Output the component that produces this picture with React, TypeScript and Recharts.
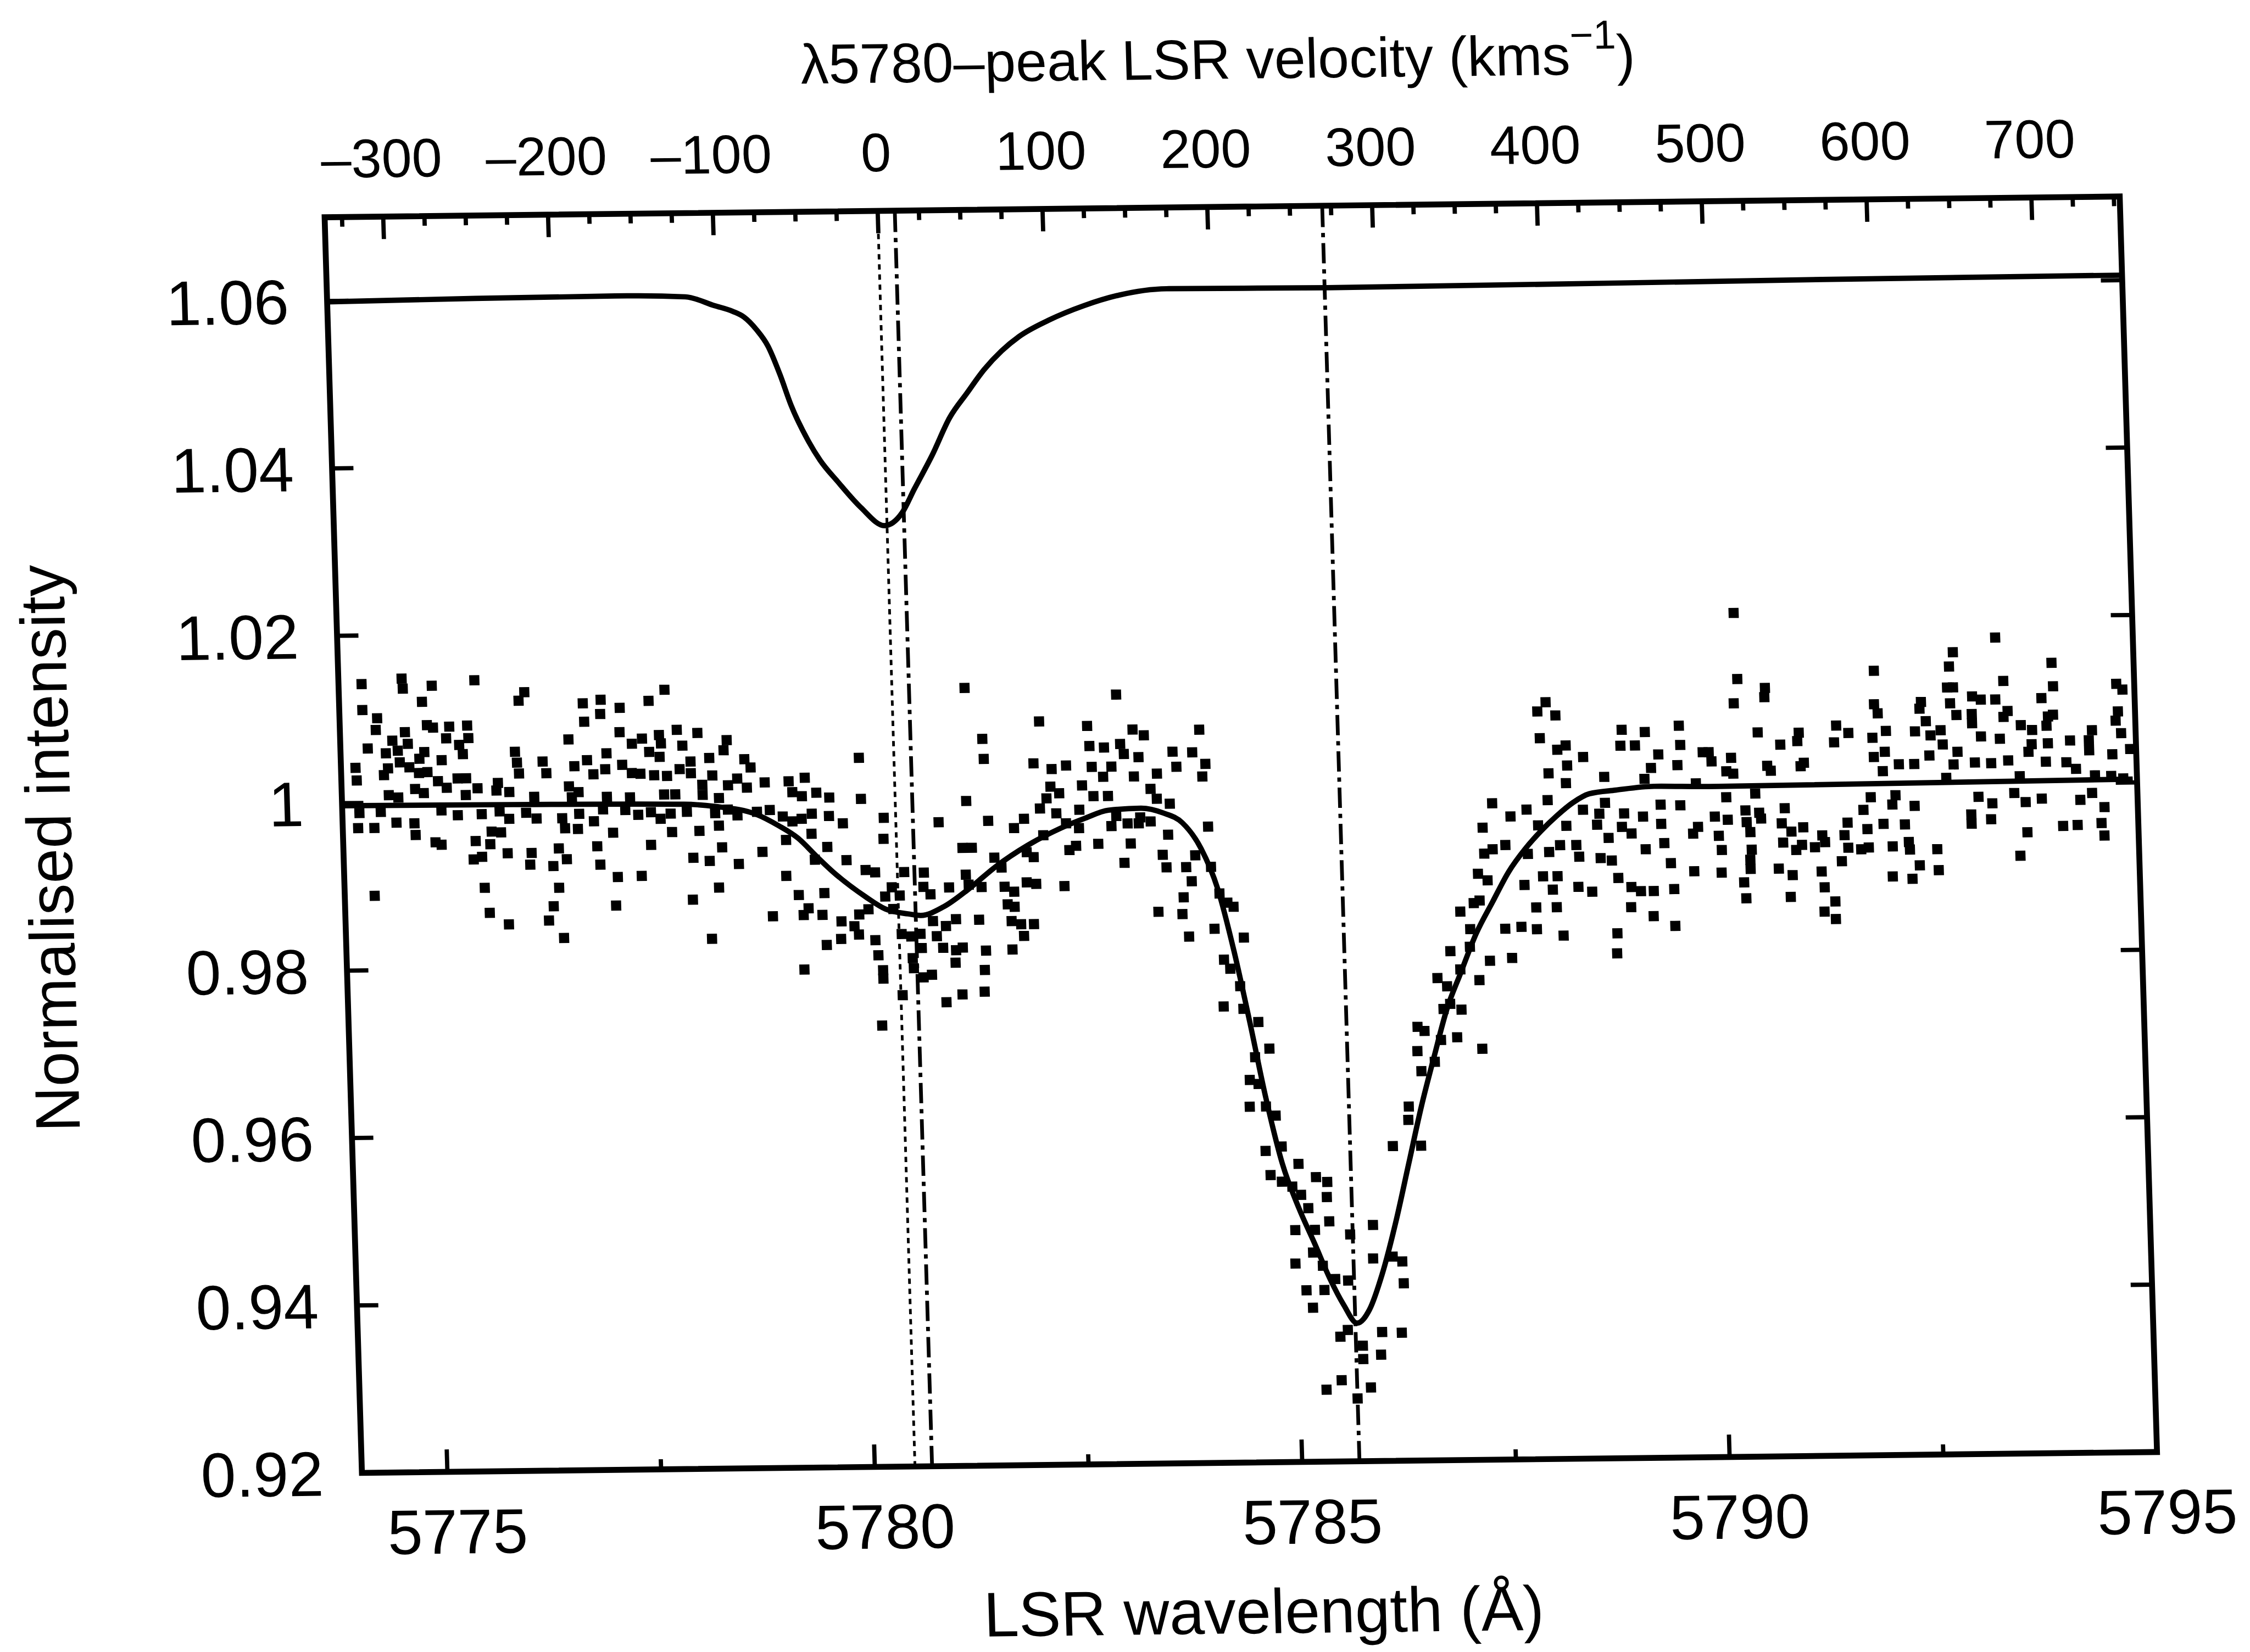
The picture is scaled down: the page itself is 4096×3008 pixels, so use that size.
import React from "react";
import {
  ComposedChart,
  Scatter,
  Line,
  XAxis,
  YAxis,
  ReferenceLine,
  ReferenceArea,
  Label,
} from "recharts";

// the printed figure sits a little rotated/sheared on the scanned page
const SCALE = 0.972;
const SHEAR_X = 0.0297;
const SHEAR_Y = -0.0116;
const SHIFT_X = -3.9;
const SHIFT_Y = 14;

const CHART_W = 4213;
const CHART_H = 3140;
const PLOT_LEFT = 600;
const PLOT_TOP = 400;
const PLOT_W = 3362;
const PLOT_H = 2352;

const FONT = '"Liberation Sans", Arial, Helvetica, sans-serif';

const LAMBDA_REST = 5780.47;
const C_KMS = 299792.458;
const toVelocity = (lam: number) => ((lam - LAMBDA_REST) / LAMBDA_REST) * C_KMS;

const lamDomain = [5774, 5795];
const intensityDomain = [0.92, 1.07];
const lamTicks = [5775, 5777.5, 5780, 5782.5, 5785, 5787.5, 5790, 5792.5, 5795];
const lamLabels = [5775, 5780, 5785, 5790, 5795];
const velTicks = [
  -325, -300, -275, -250, -225, -200, -175, -150, -125, -100, -75, -50, -25, 0, 25, 50, 75, 100,
  125, 150, 175, 200, 225, 250, 275, 300, 325, 350, 375, 400, 425, 450, 475, 500, 525, 550, 575,
  600, 625, 650, 675, 700, 725, 750,
];
const velLabels = [-300, -200, -100, 0, 100, 200, 300, 400, 500, 600, 700];
const intensityTicks = [0.92, 0.94, 0.96, 0.98, 1, 1.02, 1.04, 1.06];

// dotted line: velocity zero (peak of the lambda5780 template)
const velocityZero = [
  { vel: 0, v: 0.92 },
  { vel: 0, v: 1.07 },
];
// marked features (dash-dot)
const featureLines = [5780.67, 5785.67];

// lambda5780 template profile, shifted up for display
const templateProfile = [
  [5774.0, 1.0599], [5775.73, 1.0601], [5777.51, 1.0602], [5778.19, 1.06], [5778.53, 1.0589],
  [5778.74, 1.0582], [5778.87, 1.0575], [5779.01, 1.056], [5779.14, 1.054], [5779.27, 1.0506],
  [5779.39, 1.0469], [5779.58, 1.0426], [5779.71, 1.0403], [5779.91, 1.0377], [5780.17, 1.0346],
  [5780.44, 1.0324], [5780.65, 1.0339], [5780.8, 1.0367], [5781.02, 1.0407], [5781.24, 1.0452],
  [5781.45, 1.0481], [5781.66, 1.0509], [5781.87, 1.0531], [5782.08, 1.0548], [5782.43, 1.0567],
  [5782.85, 1.0584], [5783.26, 1.0596], [5783.82, 1.0603], [5785.7, 1.0602], [5791.49, 1.0605],
  [5795.0, 1.0606],
];

// model fit through the observed spectrum
const fitProfile = [
  [5774.0, 0.9997], [5776.0, 0.9996], [5778.0, 0.9994], [5778.36, 0.9991], [5778.84, 0.9981],
  [5779.1, 0.9967], [5779.32, 0.9952], [5779.54, 0.9929], [5779.72, 0.9911], [5780.09, 0.9881],
  [5780.32, 0.9866], [5780.58, 0.986], [5780.73, 0.9858], [5781.0, 0.9868], [5781.3, 0.9889],
  [5781.62, 0.9915], [5782.0, 0.994], [5782.39, 0.996], [5782.69, 0.9972], [5782.96, 0.9981],
  [5783.34, 0.9983], [5783.6, 0.9977], [5783.82, 0.9965], [5784.03, 0.9934], [5784.21, 0.9886],
  [5784.38, 0.9811], [5784.54, 0.9726], [5784.7, 0.9636], [5784.87, 0.9557], [5785.05, 0.9503],
  [5785.22, 0.9461], [5785.39, 0.9418], [5785.54, 0.9387], [5785.69, 0.9365], [5785.84, 0.9381],
  [5786.0, 0.9423], [5786.18, 0.9486], [5786.35, 0.9555], [5786.52, 0.9624], [5786.68, 0.9681],
  [5786.85, 0.9739], [5787.02, 0.9781], [5787.22, 0.9829], [5787.42, 0.9866], [5787.62, 0.9902],
  [5787.82, 0.9929], [5788.01, 0.995], [5788.2, 0.9968], [5788.4, 0.9984], [5788.59, 0.9994],
  [5788.9, 0.9998], [5789.35, 1.0002], [5789.99, 1.0001], [5794.95, 1.0004],
];

const observedBlue = [
  [5774.27, 1.0142], [5774.74, 1.0148], [5774.75, 1.0136], [5775.09, 1.0139], [5774.97, 1.012],
  [5775.59, 1.0145], [5776.1, 1.012], [5776.17, 1.013], [5776.85, 1.0116], [5777.06, 1.012],
  [5777.81, 1.0131], [5777.62, 1.0118], [5777.28, 1.011], [5777.05, 1.0103], [5776.86, 1.0094],
  [5774.27, 1.0111], [5774.44, 1.0101], [5774.42, 1.0087], [5774.76, 1.0084], [5775.02, 1.0092],
  [5775.09, 1.0089], [5775.28, 1.009], [5775.49, 1.0091], [5775.5, 1.0076], [5775.24, 1.0076],
  [5774.61, 1.0074], [5774.79, 1.007], [5774.67, 1.0062], [5774.32, 1.0065], [5774.53, 1.0059],
  [5774.98, 1.006], [5774.92, 1.0052], [5776.67, 1.0073], [5777.27, 1.0081], [5777.53, 1.0073],
  [5777.41, 1.0067], [5777.73, 1.0077], [5777.94, 1.0083], [5778.18, 1.0079], [5777.75, 1.0067],
  [5778.0, 1.0064], [5778.52, 1.007], [5778.48, 1.0058], [5777.61, 1.0057], [5777.11, 1.0056],
  [5777.73, 1.0051], [5778.31, 1.0049], [5778.72, 1.0047], [5778.79, 1.0037], [5776.04, 1.0059],
  [5776.06, 1.0046], [5776.08, 1.0033], [5776.36, 1.0047], [5776.4, 1.0033], [5776.73, 1.0041],
  [5776.88, 1.0048], [5777.09, 1.0037], [5776.95, 1.0031], [5777.29, 1.0042], [5777.4, 1.0032],
  [5777.5, 1.0031], [5777.66, 1.0029], [5777.81, 1.0028], [5777.96, 1.0036], [5778.09, 1.0045],
  [5778.09, 1.0031], [5778.34, 1.0028], [5778.22, 1.0017], [5778.52, 1.0016], [5778.63, 1.0024],
  [5778.74, 1.0013], [5778.95, 1.0019], [5779.23, 1.002], [5779.42, 1.0024], [5779.27, 1.0007],
  [5779.38, 1.0002], [5779.55, 1.0006], [5779.7, 1.0], [5774.17, 1.0042], [5774.18, 1.0027],
  [5774.55, 1.0041], [5774.5, 1.0033], [5774.69, 1.0048], [5774.8, 1.0042], [5774.91, 1.0035],
  [5775.01, 1.0036], [5775.13, 1.0025], [5775.23, 1.0017], [5775.18, 1.005], [5775.36, 1.0028],
  [5775.46, 1.0028], [5775.59, 1.0016], [5775.43, 1.0057], [5775.39, 1.0068], [5775.83, 1.0022],
  [5775.81, 1.0013], [5775.96, 1.0011], [5774.55, 1.0009], [5774.66, 1.0006], [5774.86, 1.0016],
  [5774.96, 1.0011], [5775.45, 1.0008], [5776.25, 1.0005], [5776.66, 1.0017], [5776.77, 1.001],
  [5776.69, 1.0004], [5777.1, 1.0004], [5777.37, 1.0003], [5777.77, 1.0006], [5777.9, 1.0006],
  [5778.22, 1.0005], [5778.41, 1.0001], [5774.2, 0.9988], [5774.45, 0.9989], [5775.16, 0.999],
  [5775.35, 0.9984], [5775.63, 0.9985], [5775.84, 0.9988], [5775.95, 0.9979], [5776.15, 0.9986],
  [5776.27, 0.9979], [5776.57, 0.9979], [5776.77, 0.9984], [5776.94, 0.9975], [5777.05, 0.9989],
  [5777.31, 0.9988], [5777.46, 0.9982], [5777.61, 0.9985], [5777.72, 0.9977], [5777.84, 0.9983],
  [5778.03, 0.9985], [5778.36, 0.9983], [5778.51, 0.9987], [5778.62, 0.998], [5778.85, 0.9984],
  [5779.0, 0.9986], [5779.15, 0.9978], [5779.26, 0.9972], [5779.37, 0.9975], [5779.49, 0.9981],
  [5779.69, 0.9978], [5774.18, 0.997], [5774.37, 0.997], [5774.63, 0.9976], [5774.84, 0.9975],
  [5774.85, 0.9961], [5775.08, 0.9952], [5775.15, 0.9949], [5775.55, 0.9953], [5775.74, 0.9964],
  [5775.85, 0.9963], [5775.72, 0.9949], [5775.52, 0.9931], [5775.62, 0.9934], [5775.92, 0.9938],
  [5776.2, 0.9938], [5776.18, 0.9924], [5776.45, 0.9922], [5776.52, 0.9943], [5776.61, 0.993],
  [5776.6, 0.9967], [5776.75, 0.9966], [5776.97, 0.9945], [5777.0, 0.9923], [5777.16, 0.9961],
  [5777.2, 0.9908], [5777.48, 0.9909], [5777.6, 0.9946], [5777.85, 0.9961], [5778.17, 0.9962],
  [5778.4, 0.9968], [5778.43, 0.9942], [5778.09, 0.993], [5778.28, 0.9926], [5778.62, 0.9922],
  [5778.9, 0.9936], [5779.17, 0.9907], [5779.18, 0.995], [5779.48, 0.9957], [5779.66, 0.9941],
  [5779.51, 0.9926], [5779.31, 0.9884], [5779.61, 0.9886], [5779.0, 0.9859], [5779.36, 0.986],
  [5779.58, 0.986], [5779.42, 0.9868], [5779.62, 0.9824], [5779.35, 0.9795], [5774.35, 0.9889],
  [5775.64, 0.9897], [5775.69, 0.9867], [5775.91, 0.9853], [5776.38, 0.9857], [5776.44, 0.9874],
  [5776.51, 0.9896], [5776.55, 0.9836], [5777.17, 0.9874], [5778.07, 0.988], [5778.28, 0.9833],
  [5778.38, 0.9894],
];

const observedDip = [
  [5781.32, 1.0129], [5783.09, 1.0119], [5782.18, 1.0088], [5782.74, 1.0082], [5783.27, 1.0077],
  [5783.4, 1.007], [5784.05, 1.0076], [5781.51, 1.0068], [5781.52, 1.0044], [5780.06, 1.0047],
  [5782.1, 1.0038], [5782.31, 1.0031], [5782.48, 1.0035], [5782.76, 1.0058], [5782.93, 1.0056],
  [5783.12, 1.006], [5783.16, 1.0048], [5783.33, 1.0044], [5783.73, 1.005], [5783.96, 1.0049],
  [5783.77, 1.0032], [5784.11, 1.0035], [5784.07, 1.002], [5782.78, 1.0033], [5783.01, 1.0033],
  [5782.91, 1.0021], [5783.27, 1.0021], [5783.54, 1.0024], [5782.66, 1.0011], [5782.29, 1.001],
  [5782.24, 0.9996], [5782.39, 1.0002], [5782.16, 0.9984], [5782.35, 0.9978], [5782.79, 0.9998],
  [5782.96, 0.9998], [5783.46, 1.0006], [5783.53, 0.9994], [5783.68, 0.9988], [5782.62, 0.9982],
  [5783.05, 0.9974], [5783.33, 0.9972], [5783.45, 0.9967], [5781.3, 0.9994], [5780.07, 0.9998],
  [5780.97, 0.9969], [5781.55, 0.997], [5781.97, 0.9972], [5781.85, 0.9961], [5782.19, 0.9952],
  [5782.46, 0.9966], [5782.61, 0.996], [5782.99, 0.9962], [5783.18, 0.9965], [5783.31, 0.9965],
  [5783.65, 0.9951], [5781.24, 0.9938], [5781.35, 0.9938], [5781.61, 0.9926], [5781.69, 0.9914],
  [5781.99, 0.9932], [5782.07, 0.9926], [5782.49, 0.9934], [5782.57, 0.9939], [5782.83, 0.9941],
  [5783.21, 0.9941], [5783.13, 0.9918], [5783.58, 0.9927], [5783.62, 0.9912], [5783.85, 0.9912],
  [5783.96, 0.9926], [5780.33, 0.9975], [5780.32, 0.995], [5779.85, 0.9969], [5779.88, 0.9925],
  [5780.1, 0.9913], [5780.21, 0.991], [5780.55, 0.991], [5780.78, 0.9909], [5780.85, 0.9883],
  [5780.77, 0.9892], [5781.07, 0.9891], [5781.27, 0.9906], [5781.3, 0.9894], [5781.45, 0.9891],
  [5781.72, 0.9891], [5781.83, 0.9885], [5781.98, 0.9896], [5782.09, 0.9894], [5782.42, 0.9891],
  [5783.91, 0.9895], [5783.81, 0.9876], [5783.51, 0.9859], [5783.79, 0.9856], [5781.75, 0.987],
  [5781.83, 0.9867], [5781.41, 0.9852], [5781.79, 0.985], [5781.9, 0.9846], [5782.05, 0.9846],
  [5781.93, 0.9832], [5780.4, 0.9892], [5780.49, 0.9882], [5780.41, 0.9866], [5780.5, 0.9836],
  [5780.61, 0.9833], [5780.72, 0.9836], [5780.87, 0.9851], [5780.91, 0.9833], [5781.02, 0.9845],
  [5781.14, 0.9853], [5780.01, 0.986], [5779.95, 0.9846], [5779.8, 0.9852], [5780.12, 0.9866],
  [5780.32, 0.9881], [5780.19, 0.9829], [5780.0, 0.9836], [5779.79, 0.9831], [5780.73, 0.9819],
  [5780.98, 0.9819], [5781.13, 0.9816], [5781.21, 0.9819], [5781.48, 0.9815], [5781.79, 0.9816],
  [5783.86, 0.9829], [5780.22, 0.9811], [5780.27, 0.9793], [5780.27, 0.9783], [5780.63, 0.9795],
  [5780.74, 0.9784], [5780.84, 0.9787], [5780.62, 0.9807], [5781.12, 0.9801], [5781.46, 0.9792],
  [5781.45, 0.9766], [5781.19, 0.9763], [5781.0, 0.9754], [5780.49, 0.9763], [5780.24, 0.9727],
];

const observedDeep = [
  [5788.03, 1.0061], [5788.23, 1.0047], [5788.33, 1.0052], [5788.34, 1.0028], [5788.32, 1.0007],
  [5788.53, 1.0038], [5788.12, 1.0019], [5788.1, 0.9987], [5788.77, 1.0014], [5788.99, 1.007],
  [5788.97, 1.0051], [5789.14, 1.0051], [5789.26, 1.0067], [5789.41, 1.004], [5789.32, 1.0024],
  [5789.66, 1.0074], [5789.67, 1.0051], [5789.63, 1.0027], [5789.93, 1.0042], [5789.24, 1.0011],
  [5789.42, 0.998], [5789.65, 0.9979], [5789.84, 1.0005], [5784.12, 0.996], [5784.14, 0.9912],
  [5784.23, 0.988], [5784.32, 0.9869], [5784.39, 0.9864], [5784.16, 0.9838], [5784.26, 0.9801],
  [5784.5, 0.9827], [5784.33, 0.979], [5784.44, 0.9769], [5784.24, 0.9745], [5784.47, 0.9742],
  [5784.64, 0.9726], [5784.76, 0.9694], [5784.59, 0.9684], [5784.52, 0.9657], [5784.62, 0.9652],
  [5784.7, 0.9625], [5784.51, 0.9625], [5784.81, 0.9614], [5784.87, 0.9577], [5784.68, 0.9572],
  [5784.73, 0.9543], [5784.86, 0.9535], [5785.06, 0.9556], [5784.98, 0.9529], [5785.08, 0.9519],
  [5785.16, 0.9503], [5785.26, 0.954], [5785.39, 0.9534], [5785.38, 0.9516], [5785.4, 0.9487],
  [5785.0, 0.9477], [5785.23, 0.9477], [5785.2, 0.945], [5784.99, 0.9437], [5785.31, 0.9434],
  [5785.11, 0.9405], [5785.18, 0.9384], [5785.32, 0.9405], [5785.45, 0.9418], [5785.6, 0.9416],
  [5785.64, 0.9471], [5785.49, 0.9349], [5785.58, 0.9357], [5785.75, 0.9338], [5785.75, 0.9322],
  [5785.98, 0.9354], [5785.96, 0.9327], [5785.31, 0.9286], [5785.49, 0.9297], [5785.83, 0.9288],
  [5785.67, 0.9275], [5786.21, 0.9353], [5785.91, 0.9482], [5785.9, 0.9442], [5786.13, 0.9444],
  [5786.24, 0.9438], [5786.25, 0.9412], [5786.17, 0.9576], [5786.37, 0.9623], [5786.36, 0.9607],
  [5786.5, 0.9576], [5786.5, 0.9718], [5786.58, 0.9713], [5786.49, 0.9689], [5786.53, 0.9665],
  [5786.69, 0.9676], [5786.77, 0.9702], [5786.96, 0.9705], [5787.25, 0.9691], [5786.81, 0.9739],
  [5786.89, 0.9745], [5786.86, 0.9766], [5787.02, 0.9738], [5786.75, 0.9776], [5787.02, 0.9786],
  [5787.24, 0.9773], [5786.91, 0.9808], [5787.14, 0.9813], [5787.15, 0.9834], [5787.37, 0.9796],
  [5787.63, 0.9799], [5787.8, 0.9886], [5787.93, 0.9833], [5787.75, 0.9836], [5787.56, 0.9834],
  [5787.26, 0.99], [5787.37, 0.9892], [5787.2, 0.9865], [5787.04, 0.9855], [5787.27, 0.9868],
  [5787.34, 0.9924], [5787.44, 0.9929], [5787.59, 0.9934], [5787.66, 0.9968], [5787.45, 0.9984],
  [5787.33, 0.9955], [5787.85, 0.9976], [5787.98, 0.9957], [5787.85, 0.9923], [5788.02, 0.9896],
  [5788.19, 0.9896], [5788.13, 0.988], [5788.17, 0.9859], [5788.24, 0.9825], [5787.93, 0.9859],
  [5788.1, 0.9925], [5788.23, 0.9933], [5788.42, 0.9933], [5788.43, 0.9883], [5788.51, 0.9975],
  [5788.45, 0.9919], [5788.59, 0.9877], [5788.7, 0.997], [5788.67, 0.9957], [5788.8, 0.9941],
  [5788.7, 0.9917], [5788.83, 0.9914], [5788.96, 0.9954], [5789.07, 0.9946], [5788.9, 0.9893],
  [5789.05, 0.9882], [5789.21, 0.9966], [5789.23, 0.9927], [5789.16, 0.9877], [5789.31, 0.9877],
  [5789.45, 0.9934], [5789.52, 0.991], [5789.55, 0.9879], [5789.79, 0.9945], [5789.85, 0.9953],
  [5789.79, 0.99], [5789.04, 0.9858], [5789.3, 0.9847], [5789.55, 0.9835], [5788.87, 0.9827],
  [5788.86, 0.9803], [5788.31, 0.9956], [5788.77, 0.9983], [5788.99, 0.997], [5789.42, 0.9957],
  [5788.01, 1.0093], [5788.11, 1.0104], [5788.22, 1.0088],
];

const observedRed = [
  [5790.34, 1.0208], [5790.36, 1.0129], [5790.31, 1.01], [5790.68, 1.0118], [5790.67, 1.0107],
  [5790.0, 1.0042], [5790.03, 1.0031], [5790.26, 1.0035], [5790.2, 1.0019], [5790.28, 1.0016],
  [5790.58, 1.0065], [5790.68, 1.0025], [5790.72, 1.0019], [5790.84, 1.005], [5791.06, 1.0064],
  [5791.04, 1.0054], [5791.07, 1.0024], [5791.11, 1.0028], [5791.5, 1.0072], [5791.47, 1.0052],
  [5791.64, 1.0063], [5791.96, 1.0137], [5791.95, 1.0097], [5791.99, 1.0086], [5791.92, 1.0057],
  [5791.93, 1.0034], [5792.06, 1.004], [5792.08, 1.0065], [5792.03, 1.0017], [5792.22, 1.0025],
  [5792.4, 1.0025], [5792.5, 1.0099], [5792.48, 1.0091], [5792.55, 1.0076], [5792.42, 1.0064],
  [5792.6, 1.0059], [5792.72, 1.0065], [5792.89, 1.0158], [5792.84, 1.0141], [5792.81, 1.0116],
  [5792.88, 1.0116], [5792.84, 1.0097], [5792.91, 1.0083], [5793.1, 1.0105], [5793.2, 1.0101],
  [5793.39, 1.0175], [5793.37, 1.0101], [5793.47, 1.0123], [5793.09, 1.0084], [5793.09, 1.0073],
  [5793.19, 1.0057], [5793.41, 1.0054], [5793.51, 1.0087], [5793.46, 1.008], [5793.66, 1.007],
  [5793.79, 1.0064], [5793.91, 1.0102], [5794.04, 1.0144], [5794.05, 1.0116], [5793.98, 1.008],
  [5794.04, 1.0082], [5793.96, 1.0069], [5793.78, 1.0047], [5793.74, 1.0038], [5793.97, 1.0048],
  [5794.23, 1.0051], [5794.45, 1.0051], [5794.49, 1.0063], [5794.45, 1.0039], [5794.79, 1.0118],
  [5794.86, 1.0111], [5794.8, 1.0085], [5794.77, 1.0074], [5794.83, 1.0059], [5794.93, 1.004],
  [5794.72, 1.0034], [5792.74, 1.0048], [5792.91, 1.0039], [5792.86, 1.0024], [5792.58, 1.0035],
  [5792.77, 1.0008], [5793.11, 1.0026], [5793.3, 1.0025], [5793.5, 1.0028], [5793.63, 1.0009],
  [5793.94, 1.0026], [5794.18, 1.0025], [5794.29, 1.0017], [5794.51, 1.0009], [5794.7, 1.0008],
  [5794.84, 1.0005], [5790.19, 0.9988], [5790.41, 0.9972], [5790.53, 0.9992], [5790.42, 0.9958],
  [5790.57, 0.9969], [5790.59, 0.9962], [5790.05, 0.9965], [5790.2, 0.9961], [5790.09, 0.9942],
  [5790.46, 0.9946], [5790.12, 0.9925], [5790.87, 0.9974], [5790.83, 0.9956], [5790.94, 0.9946],
  [5791.08, 0.9951], [5791.3, 0.9941], [5791.33, 0.9933], [5791.56, 0.9941], [5791.6, 0.9956],
  [5791.79, 0.9971], [5791.88, 0.9986], [5792.02, 0.9954], [5792.17, 0.9988], [5792.13, 0.9977],
  [5792.39, 0.9975], [5792.27, 0.9953], [5791.83, 0.9948], [5791.6, 0.9926], [5791.52, 0.991],
  [5791.75, 0.9924], [5791.84, 0.9926], [5792.12, 0.9927], [5792.31, 0.9932], [5792.32, 0.9923],
  [5792.64, 0.9923], [5793.05, 0.9964], [5793.14, 0.9985], [5793.3, 0.9977], [5793.28, 0.9958],
  [5793.05, 0.9953], [5793.56, 0.9989], [5793.69, 0.9978], [5793.88, 0.9982], [5793.7, 0.9942],
  [5793.61, 0.9914], [5794.12, 0.9949], [5794.29, 0.995], [5794.33, 0.998], [5794.47, 0.9988],
  [5794.61, 0.9971], [5794.57, 0.9952], [5794.6, 0.9937], [5790.11, 0.9898], [5790.47, 0.9925],
  [5790.45, 0.9913], [5790.45, 0.9902], [5790.84, 0.9933], [5790.99, 0.9924], [5791.06, 0.993],
  [5791.21, 0.9927], [5790.78, 0.9902], [5790.94, 0.9894], [5791.28, 0.9898], [5790.37, 0.9886],
  [5790.39, 0.9867], [5790.91, 0.9868], [5791.31, 0.9879], [5791.43, 0.9862], [5791.3, 0.985],
  [5791.43, 0.9841], [5792.11, 0.9891], [5792.34, 0.9888], [5792.43, 0.9904], [5792.65, 0.9898],
];

const toRows = (pairs: number[][]) => pairs.map(([lam, v]) => ({ lam, v }));
const observed = toRows([...observedBlue, ...observedDip, ...observedDeep, ...observedRed]);
const template = toRows(templateProfile);
const fit = toRows(fitProfile);

const textProps = { fontFamily: FONT, fill: "#000" };

const renderSquare = (props: any) => (
  <rect x={props.cx - 9.5} y={props.cy - 9.5} width={19} height={19} fill="#000" />
);

const BottomTick = (props: any) => {
  const { x, y, payload } = props;
  const major = lamLabels.includes(payload.value);
  return (
    <g>
      <line x1={x} x2={x} y1={y} y2={y - (major ? 42 : 19)} stroke="#000" strokeWidth={8} />
      {major && (
        <text x={x + 16} y={y + 153} textAnchor="middle" fontSize={118} {...textProps}>
          {payload.value}
        </text>
      )}
    </g>
  );
};

const TopTick = (props: any) => {
  const { x, y, payload } = props;
  const major = velLabels.includes(payload.value);
  const label = payload.value < 0 ? `\u2013${Math.abs(payload.value)}` : `${payload.value}`;
  return (
    <g>
      <line x1={x} x2={x} y1={y} y2={y + (major ? 42 : 18)} stroke="#000" strokeWidth={8} />
      {major && (
        <text x={x} y={y - 74} textAnchor="middle" fontSize={102} {...textProps}>
          {label}
        </text>
      )}
    </g>
  );
};

const LeftTick = (props: any) => {
  const { x, y, payload } = props;
  const label = payload.value === 1 ? "1" : payload.value.toFixed(2);
  return (
    <g>
      <line x1={x} x2={x + 40} y1={y} y2={y} stroke="#000" strokeWidth={8} />
      <text x={x - 72} y={y + 42} textAnchor="end" fontSize={118} {...textProps}>
        {label}
      </text>
    </g>
  );
};

const RightTick = (props: any) => {
  const { x, y } = props;
  return <line x1={x} x2={x - 40} y1={y} y2={y} stroke="#000" strokeWidth={8} />;
};

const TopTitle = (props: any) => {
  const { x, width } = props.viewBox;
  return (
    <text x={x + width / 2} y={160} textAnchor="middle" fontSize={105} {...textProps}>
      λ5780–peak LSR velocity (kms
      <tspan dy={-48} fontSize={76}>
        −1
      </tspan>
      <tspan dy={48}>)</tspan>
    </text>
  );
};

const BottomTitle = (props: any) => {
  const { x, y, width } = props.viewBox;
  return (
    <text x={x + width / 2} y={y + 320} textAnchor="middle" fontSize={118} {...textProps}>
      LSR wavelength (Å)
    </text>
  );
};

const LeftTitle = () => (
  <text
    x={91}
    y={PLOT_TOP + PLOT_H / 2}
    transform={`rotate(-90, 91, ${PLOT_TOP + PLOT_H / 2})`}
    textAnchor="middle"
    fontSize={118}
    {...textProps}
  >
    Normalised intensity
  </text>
);

export default function App() {
  const velDomain = [toVelocity(lamDomain[0]), toVelocity(lamDomain[1])];
  const matrix = [
    SCALE,
    SCALE * SHEAR_Y,
    SCALE * SHEAR_X,
    SCALE,
    SCALE * SHIFT_X,
    SCALE * SHIFT_Y,
  ].join(",");

  return (
    <div
      style={{
        position: "fixed",
        left: 0,
        top: 0,
        width: "100vw",
        height: "100vh",
        overflow: "hidden",
        background: "#fff",
      }}
    >
      <div
        style={{
          position: "absolute",
          left: 0,
          top: 0,
          width: CHART_W,
          height: CHART_H,
          transformOrigin: "0 0",
          transform: `matrix(${matrix})`,
        }}
      >
        <ComposedChart
          width={CHART_W}
          height={CHART_H}
          margin={{ top: 0, right: CHART_W - PLOT_LEFT - PLOT_W - 1, bottom: 0, left: 0 }}
        >
          <XAxis
            xAxisId="lam"
            dataKey="lam"
            type="number"
            orientation="bottom"
            domain={lamDomain}
            ticks={lamTicks}
            height={CHART_H - PLOT_TOP - PLOT_H}
            axisLine={false}
            tickLine={false}
            tickSize={0}
            tickMargin={0}
            interval={0}
            tick={BottomTick}
            allowDataOverflow
          >
            <Label content={BottomTitle} />
          </XAxis>
          <XAxis
            xAxisId="vel"
            dataKey="vel"
            type="number"
            orientation="top"
            domain={velDomain}
            ticks={velTicks}
            height={PLOT_TOP}
            axisLine={false}
            tickLine={false}
            tickSize={0}
            tickMargin={0}
            interval={0}
            tick={TopTick}
            allowDataOverflow
          >
            <Label content={TopTitle} />
          </XAxis>
          <YAxis
            yAxisId="left"
            dataKey="v"
            type="number"
            domain={intensityDomain}
            ticks={intensityTicks}
            width={PLOT_LEFT}
            axisLine={false}
            tickLine={false}
            tickSize={0}
            tickMargin={0}
            interval={0}
            tick={LeftTick}
            allowDataOverflow
          >
            <Label content={LeftTitle} />
          </YAxis>
          <YAxis
            yAxisId="right"
            orientation="right"
            dataKey="v"
            type="number"
            domain={intensityDomain}
            ticks={intensityTicks}
            width={1}
            axisLine={false}
            tickLine={false}
            tickSize={0}
            tickMargin={0}
            interval={0}
            tick={RightTick}
            allowDataOverflow
          />

          <Line
            xAxisId="vel"
            yAxisId="left"
            data={velocityZero}
            dataKey="v"
            type="linear"
            stroke="#000"
            strokeWidth={5}
            strokeDasharray="10 9"
            dot={false}
            isAnimationActive={false}
          />
          {featureLines.map((lam) => (
            <ReferenceLine
              key={lam}
              xAxisId="lam"
              yAxisId="left"
              x={lam}
              stroke="#000"
              strokeWidth={7}
              strokeDasharray="38 11 8 11"
            />
          ))}

          <Scatter
            xAxisId="lam"
            yAxisId="left"
            data={observed}
            shape={renderSquare}
            isAnimationActive={false}
          />
          <Line
            xAxisId="lam"
            yAxisId="left"
            data={template}
            dataKey="v"
            type="monotone"
            stroke="#000"
            strokeWidth={10}
            dot={false}
            isAnimationActive={false}
          />
          <Line
            xAxisId="lam"
            yAxisId="left"
            data={fit}
            dataKey="v"
            type="monotone"
            stroke="#000"
            strokeWidth={10}
            dot={false}
            isAnimationActive={false}
          />

          <ReferenceArea
            xAxisId="lam"
            yAxisId="left"
            x1={lamDomain[0]}
            x2={lamDomain[1]}
            y1={intensityDomain[0]}
            y2={intensityDomain[1]}
            fill="none"
            stroke="#000"
            strokeWidth={11}
            ifOverflow="visible"
          />
        </ComposedChart>
      </div>
    </div>
  );
}
